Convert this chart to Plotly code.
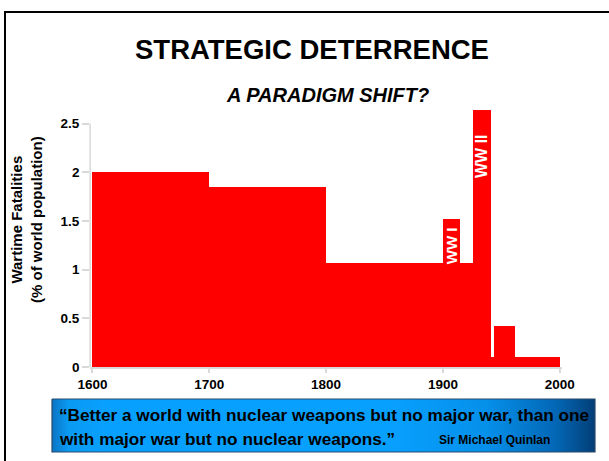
import plotly.graph_objects as go

# ---- data ----
period_start = [1600, 1700, 1800, 1900, 1926, 1941, 1943.5]
period_end = [1700, 1800, 1926, 1915, 1941, 2000, 1961.5]
fatalities = [2.0, 1.85, 1.07, 1.52, 2.64, 0.10, 0.42]
war_labels = ["", "", "", "WW I", "WW II", "", ""]

y_tick_vals = [0, 0.5, 1, 1.5, 2, 2.5]
y_tick_text = ["0", "0.5", "1", "1.5", "2", "2.5"]
x_tick_vals = [1600, 1700, 1800, 1900, 2000]
x_tick_text = ["1600", "1700", "1800", "1900", "2000"]

title = "STRATEGIC DETERRENCE"
subtitle = "A PARADIGM SHIFT?"
y_title = "Wartime Fatalities<br>(% of world population)"
quote_1 = "\u201cBetter a world with nuclear weapons but no major war, than one"
quote_2 = "with major war but no nuclear weapons.\u201d"
quote_author = "Sir Michael Quinlan"

W, H = 609, 461
FONT = "Liberation Sans, Arial, sans-serif"

mids = [(s + e) / 2 for s, e in zip(period_start, period_end)]
widths = [e - s for s, e in zip(period_start, period_end)]

fig = go.Figure()

# quote box (decorative, drawn on a hidden full-page axis so it can carry a gradient)
fig.add_trace(go.Scatter(
    x=[52, 595, 595, 52, 52], y=[399, 399, 452, 452, 399],
    xaxis="x2", yaxis="y2", mode="lines", fill="toself",
    fillgradient=dict(type="horizontal",
                      colorscale=[[0, "#0a74c4"], [0.03, "#0a9af2"], [0.1, "#08a0ff"],
                                  [0.62, "#08a0ff"], [0.8, "#0590ea"],
                                  [0.93, "#0366b4"], [1, "#023e76"]]),
    line=dict(color="#2a4a6a", width=1.2), hoverinfo="skip", showlegend=False,
))

fig.add_trace(go.Bar(
    x=mids, y=fatalities, width=widths, base=0,
    marker=dict(color="#ff0000", line=dict(width=0)),
    showlegend=False, hoverinfo="skip",
))

# px geometry
x_left_px, x_right_px = 90.1, 562.1
y_bottom_px, y_top_px = 367, 99.2

fig.update_layout(
    width=W, height=H,
    margin=dict(l=0, r=0, t=0, b=0, autoexpand=False),
    paper_bgcolor="white", plot_bgcolor="rgba(0,0,0,0)",
    barmode="overlay", bargap=0,
    font=dict(family=FONT, color="black"),
    xaxis=dict(
        domain=[x_left_px / W, x_right_px / W], range=[1598, 2002],
        tickvals=x_tick_vals, ticktext=x_tick_text,
        tickfont=dict(size=13.5, weight="bold", family=FONT),
        ticks="outside", ticklen=4, tickcolor="#d9d9d9", tickwidth=1.5,
        showline=True, linecolor="#d9d9d9", linewidth=1.5,
        showgrid=False, zeroline=False, automargin=False,
    ),
    yaxis=dict(
        domain=[(H - y_bottom_px) / H, (H - y_top_px) / H], range=[0, 2.75],
        tickvals=y_tick_vals, ticktext=y_tick_text,
        tickfont=dict(size=13.5, weight="bold", family=FONT),
        ticks="outside", ticklen=7, tickcolor="#d9d9d9", tickwidth=1.5,
        showline=False, showgrid=False, zeroline=False, automargin=False,
    ),
    xaxis2=dict(domain=[0, 1], range=[0, W], visible=False, anchor="y2",
                fixedrange=True, automargin=False),
    yaxis2=dict(domain=[0, 1], range=[H, 0], visible=False, anchor="x2",
                fixedrange=True, automargin=False),
    shapes=[
        # outer frame
        dict(type="rect", xref="paper", yref="paper",
             x0=5 / W, x1=1.2, y0=-0.2, y1=(H - 12) / H,
             line=dict(color="black", width=2), fillcolor="rgba(0,0,0,0)"),
        # y axis line (from 0 to 2.5)
        dict(type="line", xref="x domain", yref="y", x0=0, x1=0, y0=0, y1=2.5,
             line=dict(color="#d9d9d9", width=1.5)),
    ],
)


def page_text(text, xp, yp, size, color="black", xanchor="center", angle=0):
    return dict(text=text, x=xp / W, y=(H - yp) / H, xref="paper", yref="paper",
                xanchor=xanchor, yanchor="middle", textangle=angle, showarrow=False,
                font=dict(size=size, family=FONT, color=color))


ann = [
    page_text(f"<b>{title}</b>", 312, 49, 27.5),
    page_text(f"<b><i>{subtitle}</i></b>", 327, 95, 20),
    page_text(f"<b>{y_title}</b>", 27, 220, 15, angle=-90),
    page_text(f"<b>{quote_1}</b>", 57, 415, 17.2, xanchor="left"),
    page_text(f"<b>{quote_2}</b>", 57, 439, 17.2, xanchor="left"),
    page_text(f"<b>{quote_author}</b>", 437, 440, 12, xanchor="left"),
]
shifts = {"WW I": -6, "WW II": -22}
sizes = {"WW I": 15, "WW II": 16}
for m, v, lab in zip(mids, fatalities, war_labels):
    if lab:
        ann.append(dict(text=f"<b>{lab}</b>", x=m, y=v, xref="x", yref="y",
                        xanchor="center", yanchor="top", yshift=shifts[lab],
                        textangle=-90, showarrow=False,
                        font=dict(size=sizes[lab], family=FONT, color="white")))
fig.update_layout(annotations=ann)

fig.write_html("out.html", config={"displayModeBar": False},
               post_script="document.body.style.margin='0px';")
